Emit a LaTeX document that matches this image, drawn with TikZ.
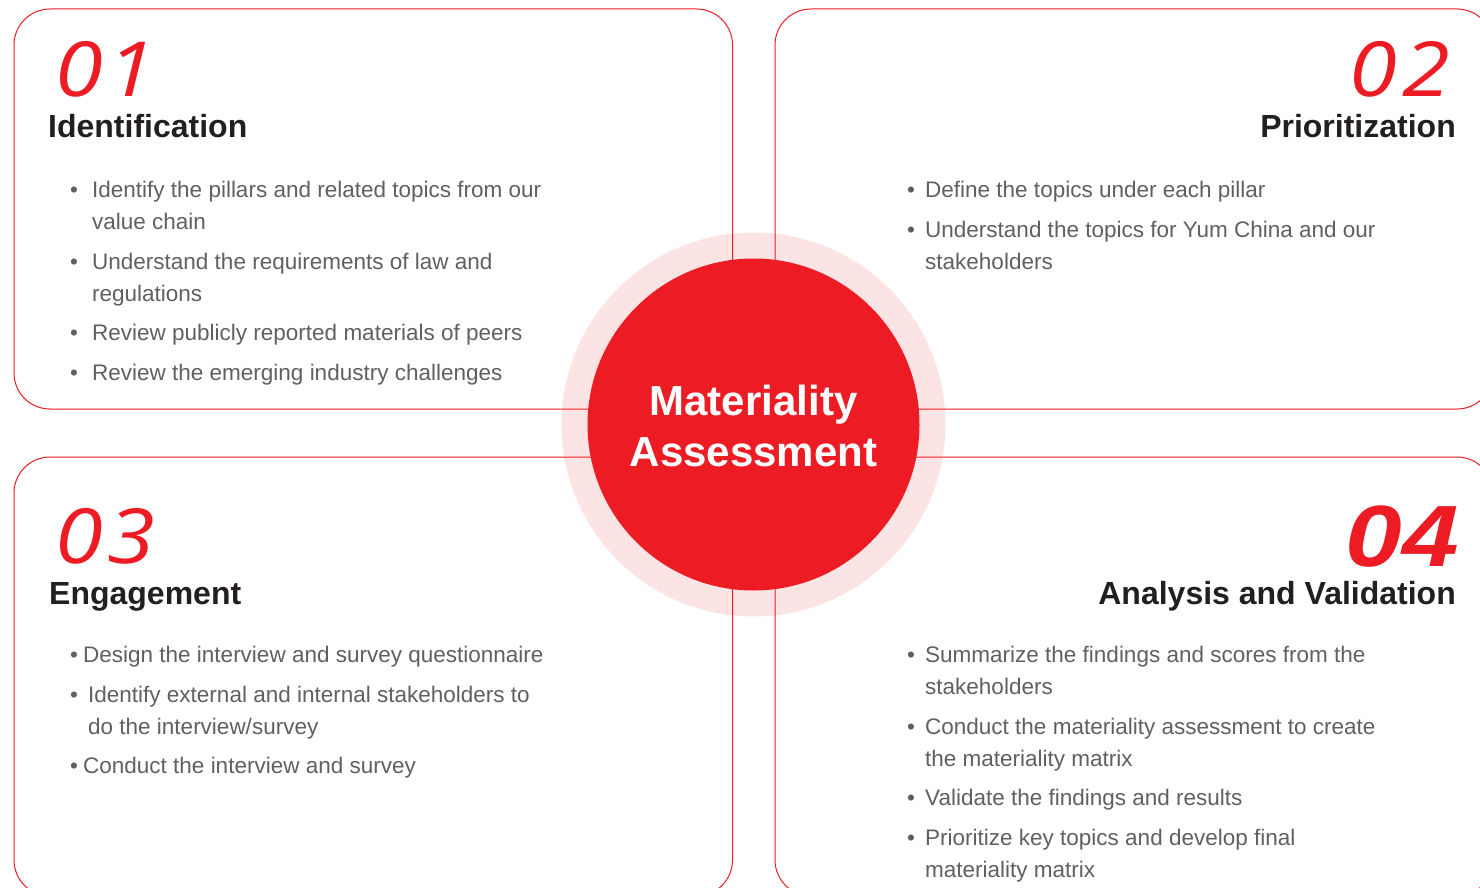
\documentclass[tikz,border=0pt]{standalone}
\usepackage{fontspec}
\usepackage{graphicx}
\setmainfont{Liberation Sans}
\newfontfamily\numfont{Open Sans}
\definecolor{mainred}{HTML}{ED1C24}
\definecolor{halo}{HTML}{FCE4E4}
\definecolor{bodygray}{HTML}{5F6062}
\definecolor{headblack}{HTML}{231F20}
\newcommand{\numtxt}[2]{\scalebox{1.14}[1]{#1\kern4pt#2}}
\tikzset{
  boxline/.style={draw=mainred, line width=1pt, rounded corners=36pt},
  body/.style={inner sep=0pt, text=bodygray, font=\fontsize{22.5}{27}\selectfont},
  bul/.style={inner sep=0pt, text=bodygray, font=\fontsize{22.5}{27}\selectfont, anchor=base},
  heading/.style={inner sep=0pt, text=headblack, font=\fontsize{32}{36}\selectfont\bfseries},
  num/.style={inner sep=0pt, text height=55pt, text depth=0pt, text=mainred, font=\fontsize{76}{80}\selectfont\numfont\itshape},
  numbold/.style={inner sep=0pt, text height=62pt, text depth=0pt, text=mainred, font=\fontsize{87}{90}\selectfont\bfseries\itshape},
  centertext/.style={inner sep=0pt, text=white, anchor=base, font=\fontsize{42}{50}\selectfont\bfseries},
}
\begin{document}
\begin{tikzpicture}[x=1pt,y=-1pt]
\useasboundingbox[fill=white] (0,0) rectangle (1480,888);
% halo
\node[circle, fill=halo, minimum size=384pt, inner sep=0pt] (halo) at (753.5,424.5) {};
% boxes
\draw[boxline] (14,9) rectangle (732.5,409);
\draw[boxline] (775,9) rectangle (1493,409);
\draw[boxline] (14,457) rectangle (732.5,896);
\draw[boxline] (775,457) rectangle (1493,896);
% core circle
\node[circle, fill=mainred, minimum size=332pt, inner sep=0pt] (core) at (753.5,424.5) {};
\node[centertext] (ct1) at (753.5,415) {Materiality};
\node[centertext] (ct2) at (753.5,466) {Assessment};

% Box 1
\node[num, anchor=base west] (n01) at (55,97) {\numtxt{0}{1}};
\node[heading, anchor=base west] (h1) at (48,138) {Identification};
\node[bul] (b1a) at (74,197) {•};
\node[body, anchor=base west] (t1a) at (92,197) {Identify the pillars and related topics from our};
\node[body, anchor=base west] (t1b) at (92,229) {value chain};
\node[bul] (b1b) at (74,269) {•};
\node[body, anchor=base west] (t1c) at (92,269) {Understand the requirements of law and};
\node[body, anchor=base west] (t1d) at (92,301) {regulations};
\node[bul] (b1c) at (74,340) {•};
\node[body, anchor=base west] (t1e) at (92,340) {Review publicly reported materials of peers};
\node[bul] (b1d) at (74,380) {•};
\node[body, anchor=base west] (t1f) at (92,380) {Review the emerging industry challenges};

% Box 2
\node[num, anchor=base east] (n02) at (1450,97) {\numtxt{0}{2}};
\node[heading, anchor=base east] (h2) at (1456,138) {Prioritization};
\node[bul] (b2a) at (911,197) {•};
\node[body, anchor=base west] (t2a) at (925,197) {Define the topics under each pillar};
\node[bul] (b2b) at (911,237) {•};
\node[body, anchor=base west] (t2b) at (925,237) {Understand the topics for Yum China and our};
\node[body, anchor=base west] (t2c) at (925,269) {stakeholders};

% Box 3
\node[num, anchor=base west] (n03) at (55,563) {\numtxt{0}{3}};
\node[heading, anchor=base west] (h3) at (49,604) {Engagement};
\node[bul] (b3a) at (74,662) {•};
\node[body, anchor=base west] (t3a) at (83,662) {Design the interview and survey questionnaire};
\node[bul] (b3b) at (74,702) {•};
\node[body, anchor=base west] (t3b) at (88,702) {Identify external and internal stakeholders to};
\node[body, anchor=base west] (t3c) at (88,734) {do the interview/survey};
\node[bul] (b3c) at (74,773) {•};
\node[body, anchor=base west] (t3d) at (83,773) {Conduct the interview and survey};

% Box 4
\node[numbold, anchor=base east] (n04) at (1459,566) {\scalebox{1.17}[1]{04}};
\node[heading, anchor=base east] (h4) at (1456,604) {Analysis and Validation};
\node[bul] (b4a) at (911,662) {•};
\node[body, anchor=base west] (t4a) at (925,662) {Summarize the findings and scores from the};
\node[body, anchor=base west] (t4b) at (925,694) {stakeholders};
\node[bul] (b4b) at (911,734) {•};
\node[body, anchor=base west] (t4c) at (925,734) {Conduct the materiality assessment to create};
\node[body, anchor=base west] (t4d) at (925,766) {the materiality matrix};
\node[bul] (b4c) at (911,805) {•};
\node[body, anchor=base west] (t4e) at (925,805) {Validate the findings and results};
\node[bul] (b4d) at (911,845) {•};
\node[body, anchor=base west] (t4f) at (925,845) {Prioritize key topics and develop final};
\node[body, anchor=base west] (t4g) at (925,877) {materiality matrix};
\end{tikzpicture}
\end{document}
